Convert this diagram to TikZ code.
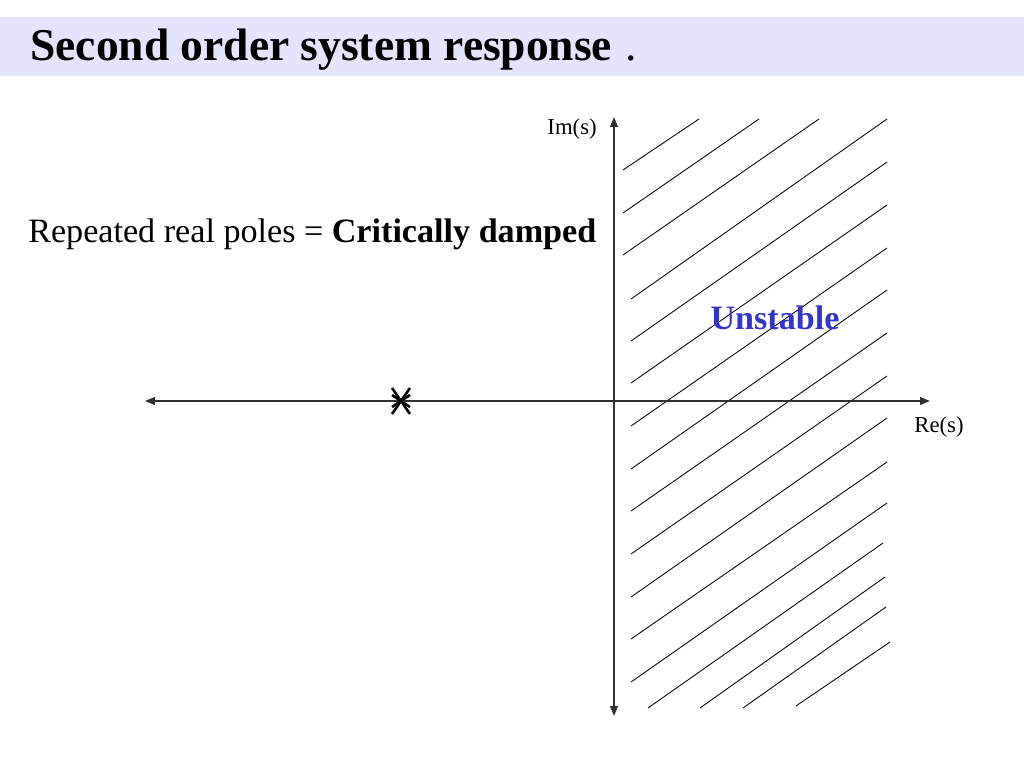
\documentclass[tikz,border=0pt]{standalone}
\usepackage{fontspec}
\setmainfont{Liberation Serif}
\usepackage{tikz}
\usetikzlibrary{calc}
\usetikzlibrary{arrows.meta}
\definecolor{bandblue}{HTML}{E4E4FC}
\definecolor{unstblue}{HTML}{3535C8}
\definecolor{axisgray}{HTML}{303030}
\tikzset{
 axis/.style={axisgray, line width=1.1pt, >={Triangle[length=7pt,width=5.5pt]}},
 hatch/.style={black, line width=.6pt},
 pole/.style={black, line width=1.8pt},
}
\begin{document}
\begin{tikzpicture} [x=0.703125pt, y=-0.703125pt]
\useasboundingbox (0,0) rectangle (1024,768);
\fill[bandblue] (0,17) rectangle (1024,76);
\node[anchor=base west, inner sep=0] (title) at (30,61) {\fontsize{32}{36}\selectfont\bfseries Second order system response\hspace{.3em}{\mdseries .}};
\node[anchor=west, inner sep=0] (poles) at (28,234) {\fontsize{24}{28}\selectfont Repeated real poles = \textbf{Critically damped}};
\foreach \xa/\ya/\xb/\yb in {623/170/699/119, 623/213/759/119, 623/255/819/119,
 631/299/887/119, 631/341/887/162, 631/383/887/205, 631/426/887/248, 631/469/887/290,
 631/511/887/333, 631/554/887/376, 631/597/887/418, 631/639/887/462, 631/682/887/503,
 648/708/883/543, 700/708/885/577, 743/708/886/607, 796/706/890/642}
 \draw[hatch] (\xa,\ya) -- (\xb,\yb);
\coordinate (reL) at (145,401);
\coordinate (reR) at (930,401);
\coordinate (imT) at (614,117);
\coordinate (imB) at (614,716);
\draw[axis,<->] (reL) -- (reR);
\draw[axis,<->] (imB) -- (imT);
\node[anchor=east, inner sep=0] (imlabel) at (597,129) {\fontsize{16}{18}\selectfont Im(s)};
\node[inner sep=0] (relabel) at (939,427) {\fontsize{16}{18}\selectfont Re(s)};
\node[inner sep=0, text=unstblue] (unstable) at (775,318) {\fontsize{24}{28}\selectfont\bfseries Unstable};
\coordinate (pole) at (401,401);
\draw[pole] ($(pole)+(-9,-13)$) -- ($(pole)+(9,13)$) ($(pole)+(9,-13)$) -- ($(pole)+(-9,13)$);
\draw[pole] ($(pole)+(-9,-6)$) -- ($(pole)+(9,6)$) ($(pole)+(9,-6)$) -- ($(pole)+(-9,6)$);
\end{tikzpicture}
\end{document}
